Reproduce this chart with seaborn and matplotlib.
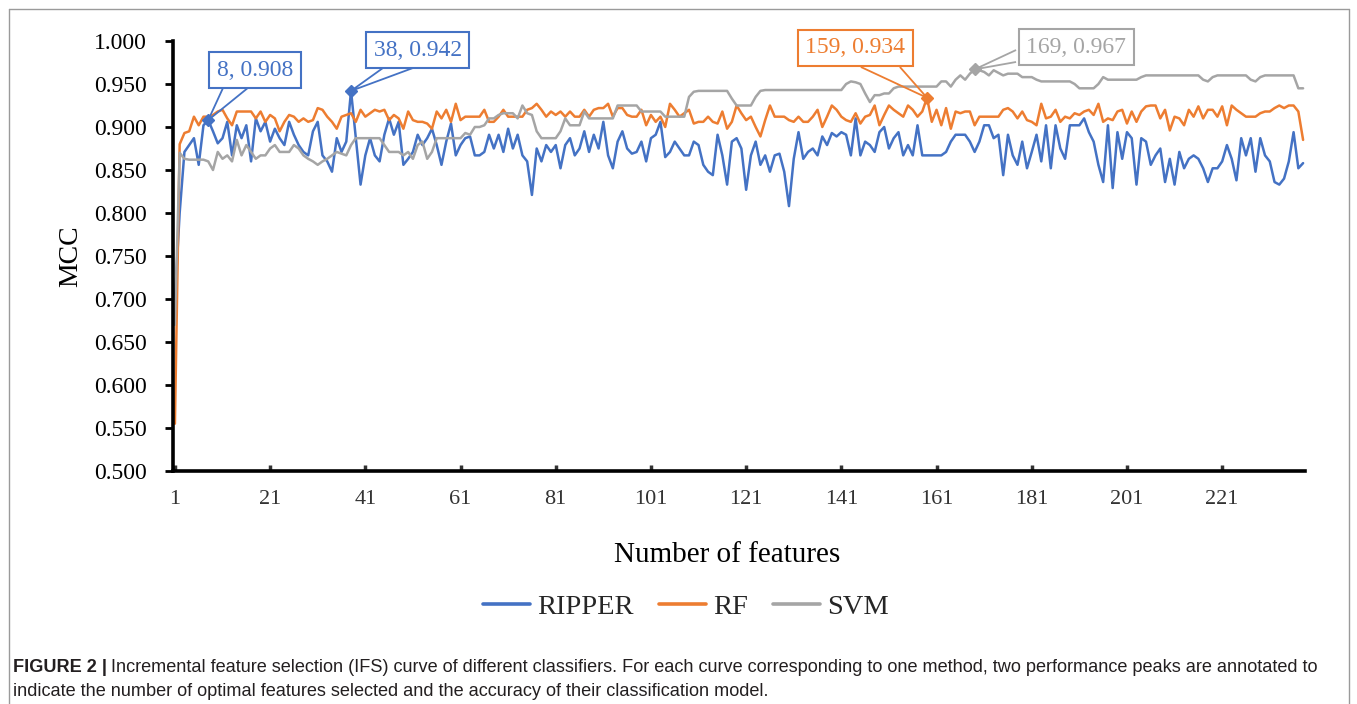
import numpy as np
import pandas as pd
import matplotlib
matplotlib.use('Agg')
import matplotlib.pyplot as plt
import seaborn as sns
from matplotlib.patches import Polygon
from matplotlib.lines import Line2D

# MCC per number of features
ripper = [
    0.700, 0.800, 0.871, 0.879, 0.887, 0.856, 0.902, 0.908, 0.895, 0.881,
    0.887, 0.906, 0.867, 0.902, 0.887, 0.902, 0.860, 0.910, 0.895, 0.906,
    0.883, 0.898, 0.887, 0.879, 0.906, 0.891, 0.879, 0.871, 0.867, 0.895,
    0.906, 0.867, 0.860, 0.848, 0.887, 0.871, 0.883, 0.942, 0.887, 0.833,
    0.867, 0.887, 0.867, 0.860, 0.891, 0.910, 0.891, 0.906, 0.856, 0.863,
    0.871, 0.891, 0.879, 0.887, 0.898, 0.879, 0.856, 0.883, 0.904, 0.867,
    0.879, 0.887, 0.889, 0.867, 0.867, 0.871, 0.891, 0.875, 0.891, 0.871,
    0.898, 0.875, 0.891, 0.867, 0.860, 0.821, 0.875, 0.860, 0.879, 0.871,
    0.879, 0.852, 0.879, 0.887, 0.867, 0.875, 0.895, 0.871, 0.891, 0.875,
    0.906, 0.867, 0.852, 0.883, 0.895, 0.875, 0.869, 0.871, 0.883, 0.860,
    0.887, 0.891, 0.906, 0.865, 0.871, 0.883, 0.875, 0.867, 0.867, 0.883,
    0.879, 0.856, 0.848, 0.844, 0.891, 0.867, 0.833, 0.883, 0.887, 0.875,
    0.827, 0.867, 0.883, 0.856, 0.867, 0.848, 0.867, 0.869, 0.848, 0.808,
    0.863, 0.894, 0.863, 0.871, 0.875, 0.867, 0.889, 0.879, 0.893, 0.889,
    0.894, 0.891, 0.867, 0.910, 0.867, 0.883, 0.879, 0.871, 0.894, 0.900,
    0.875, 0.887, 0.894, 0.867, 0.879, 0.867, 0.902, 0.867, 0.867, 0.867,
    0.867, 0.867, 0.871, 0.883, 0.891, 0.891, 0.891, 0.883, 0.871, 0.883,
    0.902, 0.902, 0.887, 0.891, 0.844, 0.891, 0.867, 0.856, 0.883, 0.852,
    0.871, 0.891, 0.860, 0.902, 0.852, 0.902, 0.875, 0.863, 0.902, 0.902,
    0.902, 0.910, 0.894, 0.883, 0.856, 0.836, 0.902, 0.829, 0.894, 0.863,
    0.894, 0.887, 0.833, 0.887, 0.883, 0.856, 0.867, 0.875, 0.836, 0.863,
    0.833, 0.871, 0.852, 0.863, 0.867, 0.863, 0.852, 0.836, 0.852, 0.852,
    0.860, 0.879, 0.863, 0.838, 0.887, 0.867, 0.887, 0.848, 0.887, 0.867,
    0.860, 0.836, 0.833, 0.840, 0.860, 0.894, 0.852, 0.858,
]
rf = [
    0.555, 0.880, 0.893, 0.895, 0.912, 0.902, 0.912, 0.912, 0.914, 0.918,
    0.920, 0.910, 0.902, 0.918, 0.918, 0.918, 0.918, 0.910, 0.918, 0.906,
    0.914, 0.910, 0.895, 0.906, 0.914, 0.912, 0.906, 0.910, 0.906, 0.908,
    0.922, 0.920, 0.912, 0.906, 0.898, 0.912, 0.914, 0.916, 0.906, 0.920,
    0.912, 0.916, 0.920, 0.918, 0.920, 0.908, 0.914, 0.910, 0.898, 0.918,
    0.908, 0.906, 0.906, 0.904, 0.898, 0.918, 0.910, 0.920, 0.906, 0.927,
    0.908, 0.912, 0.912, 0.912, 0.912, 0.920, 0.906, 0.906, 0.912, 0.920,
    0.912, 0.912, 0.912, 0.912, 0.920, 0.922, 0.927, 0.920, 0.912, 0.918,
    0.914, 0.918, 0.912, 0.918, 0.912, 0.912, 0.920, 0.912, 0.920, 0.922,
    0.922, 0.927, 0.912, 0.922, 0.922, 0.914, 0.912, 0.912, 0.920, 0.902,
    0.914, 0.906, 0.912, 0.900, 0.927, 0.920, 0.912, 0.916, 0.920, 0.904,
    0.906, 0.906, 0.912, 0.906, 0.904, 0.918, 0.898, 0.906, 0.925, 0.916,
    0.908, 0.912, 0.900, 0.889, 0.908, 0.925, 0.912, 0.912, 0.912, 0.908,
    0.906, 0.912, 0.906, 0.906, 0.912, 0.920, 0.900, 0.912, 0.925, 0.920,
    0.912, 0.908, 0.906, 0.916, 0.904, 0.912, 0.914, 0.925, 0.902, 0.914,
    0.925, 0.920, 0.916, 0.912, 0.925, 0.920, 0.912, 0.918, 0.934, 0.906,
    0.920, 0.902, 0.922, 0.898, 0.918, 0.916, 0.918, 0.918, 0.902, 0.912,
    0.912, 0.912, 0.912, 0.912, 0.920, 0.922, 0.918, 0.910, 0.918, 0.908,
    0.906, 0.902, 0.927, 0.910, 0.912, 0.920, 0.906, 0.912, 0.910, 0.916,
    0.914, 0.918, 0.920, 0.914, 0.927, 0.906, 0.910, 0.908, 0.918, 0.920,
    0.904, 0.918, 0.906, 0.918, 0.924, 0.925, 0.925, 0.910, 0.920, 0.896,
    0.912, 0.910, 0.902, 0.920, 0.912, 0.924, 0.910, 0.920, 0.920, 0.912,
    0.924, 0.902, 0.925, 0.920, 0.916, 0.912, 0.912, 0.912, 0.916, 0.918,
    0.918, 0.922, 0.925, 0.922, 0.925, 0.925, 0.918, 0.885,
]
svm = [
    0.670, 0.870, 0.863, 0.862, 0.862, 0.862, 0.862, 0.860, 0.850, 0.871,
    0.863, 0.867, 0.860, 0.885, 0.867, 0.879, 0.871, 0.863, 0.867, 0.867,
    0.875, 0.879, 0.871, 0.871, 0.871, 0.879, 0.875, 0.867, 0.863, 0.860,
    0.856, 0.860, 0.863, 0.867, 0.871, 0.869, 0.867, 0.879, 0.887, 0.887,
    0.887, 0.887, 0.887, 0.887, 0.879, 0.871, 0.871, 0.871, 0.867, 0.871,
    0.863, 0.879, 0.883, 0.863, 0.871, 0.887, 0.887, 0.887, 0.887, 0.887,
    0.887, 0.893, 0.891, 0.900, 0.900, 0.902, 0.910, 0.910, 0.914, 0.916,
    0.916, 0.916, 0.910, 0.925, 0.916, 0.914, 0.895, 0.887, 0.887, 0.887,
    0.887, 0.895, 0.910, 0.902, 0.902, 0.902, 0.918, 0.910, 0.910, 0.910,
    0.910, 0.910, 0.910, 0.925, 0.925, 0.925, 0.925, 0.925, 0.918, 0.918,
    0.918, 0.918, 0.918, 0.912, 0.912, 0.912, 0.912, 0.912, 0.935, 0.941,
    0.942, 0.942, 0.942, 0.942, 0.942, 0.942, 0.942, 0.933, 0.925, 0.925,
    0.925, 0.925, 0.935, 0.942, 0.943, 0.943, 0.943, 0.943, 0.943, 0.943,
    0.943, 0.943, 0.943, 0.943, 0.943, 0.943, 0.943, 0.943, 0.943, 0.943,
    0.943, 0.950, 0.953, 0.952, 0.950, 0.939, 0.929, 0.937, 0.937, 0.939,
    0.939, 0.945, 0.947, 0.947, 0.947, 0.947, 0.947, 0.947, 0.947, 0.947,
    0.947, 0.953, 0.953, 0.947, 0.955, 0.960, 0.955, 0.962, 0.967, 0.966,
    0.964, 0.960, 0.966, 0.963, 0.960, 0.962, 0.962, 0.962, 0.958, 0.958,
    0.958, 0.955, 0.953, 0.953, 0.953, 0.953, 0.953, 0.953, 0.953, 0.950,
    0.945, 0.945, 0.945, 0.945, 0.950, 0.958, 0.955, 0.955, 0.955, 0.955,
    0.955, 0.955, 0.955, 0.958, 0.960, 0.960, 0.960, 0.960, 0.960, 0.960,
    0.960, 0.960, 0.960, 0.960, 0.960, 0.960, 0.955, 0.953, 0.958, 0.960,
    0.960, 0.960, 0.960, 0.960, 0.960, 0.960, 0.955, 0.953, 0.958, 0.960,
    0.960, 0.960, 0.960, 0.960, 0.960, 0.960, 0.945, 0.945,
]
methods = ["RIPPER", "RF", "SVM"]
colors = ["#4472C4", "#ED7D31", "#A5A5A5"]
x_ticks = [1, 21, 41, 61, 81, 101, 121, 141, 161, 181, 201, 221]
y_ticks = [0.50, 0.55, 0.60, 0.65, 0.70, 0.75, 0.80, 0.85, 0.90, 0.95, 1.00]

# annotated peaks: method, number of features
peak_methods = ["RIPPER", "RIPPER", "RF", "SVM"]
peak_features = [8, 38, 159, 169]

n_features = list(range(1, len(ripper) + 1))
df = pd.DataFrame({
    "n": n_features * 3,
    "MCC": ripper + rf + svm,
    "method": [m for m in methods for _ in n_features],
})
series = {"RIPPER": ripper, "RF": rf, "SVM": svm}
palette = dict(zip(methods, colors))

sns.set_theme(style="white")
plt.rcParams['font.family'] = ['Liberation Serif', 'DejaVu Serif']

W, H = 1357, 704
fig = plt.figure(figsize=(W / 100, H / 100), dpi=100)
ax = fig.add_axes([173 / W, 1 - 471 / H, (1305 - 173) / W, (471 - 41) / H])

sns.lineplot(data=df, x="n", y="MCC", hue="method", palette=palette,
             linewidth=1.8, ax=ax)

ax.set_xlim(0.6, 238.4)
ax.set_ylim(0.5, 1.0)
ax.set_xticks(x_ticks)
ax.set_yticks(y_ticks)
ax.set_yticklabels([f"{v:.3f}" for v in y_ticks])
ax.tick_params(axis='y', direction='out', length=6, width=2, pad=13,
               labelsize=17, colors='black', left=True)
ax.tick_params(axis='x', direction='in', length=4, width=2.5, pad=14,
               labelsize=16, colors='#333333', bottom=True)
for s in ['top', 'right']:
    ax.spines[s].set_visible(False)
for s in ['left', 'bottom']:
    ax.spines[s].set_color('black')
    ax.spines[s].set_linewidth(2.6)
ax.set_xlabel("")
ax.set_ylabel("MCC", fontsize=20, color='black', labelpad=12)
ax.yaxis.set_label_coords(-90 / (1305 - 173), 0.5)
fig.text(727 / W, 1 - 555 / H, "Number of features", fontsize=21,
         ha='center', va='center', color='black')

# callouts: text centre, wedge base points (data coordinates)
box_centres = [(17.8, 0.966), (52.0, 0.9895), (143.9, 0.9919), (190.3, 0.993)]
wedge_bases = [
    [(11.1, 0.9453), (16.3, 0.9453)],
    [(44.7, 0.9686), (51.0, 0.9686)],
    [(145.1, 0.9698), (153.3, 0.9698)],
    [(177.7, 0.9895), (177.7, 0.9756)],
]
for m, n, c, base in zip(peak_methods, peak_features, box_centres, wedge_bases):
    col = palette[m]
    val = series[m][n - 1]
    ax.add_patch(Polygon([base[0], (n, val), base[1]], closed=False,
                         fill=False, edgecolor=col, lw=1.3, zorder=5,
                         clip_on=False))
    ax.plot([n], [val], marker='D', ms=6, color=col, zorder=6, clip_on=False)
    ax.text(c[0], c[1], f"{n}, {val:.3f}", fontsize=17, color=col,
            ha='center', va='center', zorder=7,
            bbox=dict(boxstyle='square,pad=0.32', fc='white', ec=col, lw=1.5))

handles, labels = ax.get_legend_handles_labels()
ax.get_legend().remove()
leg = fig.legend(handles, labels, loc='center', bbox_to_anchor=(686 / W, 1 - 607 / H),
                 ncol=3, frameon=False, fontsize=20.5, handlelength=1.65,
                 handletextpad=0.25, columnspacing=0.9)
for h in leg.get_lines():
    h.set_linewidth(2.6)

# outer frame
frame_kw = dict(transform=fig.transFigure, color='#9a9a9a', lw=1.0)
fig.add_artist(Line2D([9 / W, 1349 / W], [1 - 9 / H, 1 - 9 / H], **frame_kw))
fig.add_artist(Line2D([9 / W, 9 / W], [0, 1 - 9 / H], **frame_kw))
fig.add_artist(Line2D([1349 / W, 1349 / W], [0, 1 - 9 / H], **frame_kw))

# caption
cap_font = ['Liberation Sans', 'DejaVu Sans']
cap_size = 13.1
bold = fig.text(13 / W, 1 - 667 / H, "FIGURE 2 |", fontsize=cap_size,
                fontweight='bold', family=cap_font, color='#231f20', va='center')
fig.canvas.draw()
bb = bold.get_window_extent(fig.canvas.get_renderer())
fig.text((bb.x1 + 4) / W, 1 - 667 / H,
         "Incremental feature selection (IFS) curve of different classifiers. "
         "For each curve corresponding to one method, two performance peaks are annotated to",
         fontsize=cap_size, family=cap_font, color='#231f20', va='center')
fig.text(13 / W, 1 - 691 / H,
         "indicate the number of optimal features selected and the accuracy of their classification model.",
         fontsize=cap_size, family=cap_font, color='#231f20', va='center')

fig.savefig("out.png", dpi=100)
